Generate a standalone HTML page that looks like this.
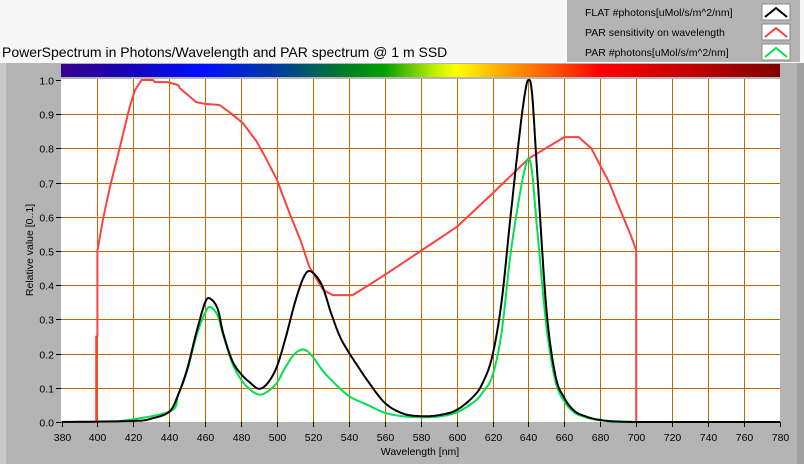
<!DOCTYPE html>
<html><head><style>
html,body{margin:0;padding:0;background:#b4b4b4;}
svg{display:block;font-family:"Liberation Sans",sans-serif;}
</style></head><body>
<svg id="s" width="804" height="464" xmlns="http://www.w3.org/2000/svg">
<defs>
<linearGradient id="spec" x1="0" x2="1">
<stop offset="0" stop-color="#3a0090"/>
<stop offset="0.08" stop-color="#1a00b0"/>
<stop offset="0.2" stop-color="#0010ff"/>
<stop offset="0.3" stop-color="#003aa0"/>
<stop offset="0.4" stop-color="#008020"/>
<stop offset="0.45" stop-color="#00a000"/>
<stop offset="0.52" stop-color="#c0f000"/>
<stop offset="0.55" stop-color="#ffff00"/>
<stop offset="0.62" stop-color="#ffa000"/>
<stop offset="0.7" stop-color="#ff4000"/>
<stop offset="0.75" stop-color="#ff0000"/>
<stop offset="0.88" stop-color="#c00000"/>
<stop offset="1" stop-color="#800000"/>
</linearGradient>
</defs>
<rect x="0" y="0" width="804" height="464" fill="#b4b4b4"/>
<rect x="0" y="0" width="804" height="63" fill="#f7f7f7"/>
<rect x="0" y="63" width="6" height="401" fill="#c8c8c8"/>
<rect x="797" y="63" width="7" height="401" fill="#a0a0a0"/>
<rect x="567" y="0" width="233" height="62" fill="#b4b4b4"/>
<text x="2" y="57" font-size="14" fill="#000">PowerSpectrum in Photons/Wavelength and PAR spectrum @ 1 m SSD</text>
<g font-size="10.5" fill="#000">
<text x="585" y="16">FLAT #photons[uMol/s/m^2/nm]</text>
<text x="585" y="36">PAR sensitivity on wavelength</text>
<text x="585" y="56">PAR #photons[uMol/s/m^2/nm]</text>
</g>
<g stroke="#888" fill="#fff"><rect x="762" y="4" width="28" height="16"/><rect x="762" y="24" width="28" height="16"/><rect x="762" y="44" width="28" height="16"/></g>
<polyline points="765,17 776,8 787,17" stroke="#000" stroke-width="2" fill="none"/>
<polyline points="765,37 776,28 787,37" stroke="#ff4040" stroke-width="2" fill="none"/>
<polyline points="765,57 776,48 787,57" stroke="#00e050" stroke-width="2" fill="none"/>
<rect x="61" y="64" width="719" height="13" fill="url(#spec)"/>
<rect x="61" y="79" width="719" height="343" fill="#fff"/>
<g id="grid" stroke="#c86400" stroke-width="1"></g>
<g id="ticks" font-size="10.5" fill="#000"></g>
<text x="420" y="455" font-size="10.5" text-anchor="middle">Wavelength [nm]</text>
<text transform="translate(33,250) rotate(-90)" font-size="10.5" text-anchor="middle">Relative value [0..1]</text>
<g id="curves" fill="none" stroke-width="2" stroke-linejoin="round"></g>
</svg>
<script>
var NS="http://www.w3.org/2000/svg";
function X(w){return 61.5+(w-380)*1.796;}
function Y(v){return 422-v*342;}
function el(t,a,p,txt){var e=document.createElementNS(NS,t);for(var k in a)e.setAttribute(k,a[k]);if(txt!=null)e.textContent=txt;p.appendChild(e);return e;}
var g=document.getElementById('grid'),tk=document.getElementById('ticks');
for(var w=380;w<=780;w+=20){var x=Math.round(X(w))+0.5;if(w>380&&w<780)el('line',{x1:x,y1:79,x2:x,y2:422},g);
el('line',{x1:x,y1:422,x2:x,y2:427,stroke:'#000'},tk);el('text',{x:x,y:441,'text-anchor':'middle'},tk,w);}
for(var i=0;i<=10;i++){var y=Math.round(Y(i/10))+0.5;if(i>0&&i<10)el('line',{x1:61,y1:y,x2:780,y2:y},g);
el('line',{x1:56,y1:y,x2:61,y2:y,stroke:'#000'},tk);el('text',{x:54,y:y+4,'text-anchor':'end'},tk,(i/10).toFixed(1));}
function cr(pts){var o=[];for(var i=0;i<pts.length-1;i++){var p0=pts[Math.max(0,i-1)],p1=pts[i],p2=pts[i+1],p3=pts[Math.min(pts.length-1,i+2)];
for(var t=0;t<1;t+=0.1){var t2=t*t,t3=t2*t;function f(a,b,c,d){return 0.5*(2*b+(-a+c)*t+(2*a-5*b+4*c-d)*t2+(-a+3*b-3*c+d)*t3);}
o.push([f(p0[0],p1[0],p2[0],p3[0]),Math.max(0,f(p0[1],p1[1],p2[1],p3[1]))]);}}o.push(pts[pts.length-1]);return o;}
function pl(pts,col){el('polyline',{points:pts.map(function(p){return X(p[0]).toFixed(1)+','+Y(p[1]).toFixed(1)}).join(' '),stroke:col},document.getElementById('curves'));}
var red=[[380,0],[399.3,0],[399.3,0.25],[400,0.25],[400,0.5],[403,0.59],[407,0.688],[412.6,0.805],[418,0.922],[421,0.971],[424.6,1.0],[431,1.0],[432,0.994],[439,0.994],[445,0.985],[446,0.976],[451.5,0.951],[455,0.935],[460,0.93],[468,0.927],[474,0.904],[481,0.874],[488.7,0.82],[494,0.77],[500,0.708],[507,0.61],[513,0.532],[518,0.454],[525.7,0.386],[531,0.371],[542,0.371],[548,0.39],[560,0.43],[580,0.5],[600,0.57],[620,0.668],[640,0.77],[660,0.833],[668,0.833],[675,0.8],[680,0.75],[685,0.7],[690,0.634],[697,0.546],[700,0.502],[700,0],[780,0]];
pl(red,'#ff4040');
var blk=[[380,0],[420,0.003],[430,0.01],[440,0.03],[445,0.08],[450,0.155],[455,0.26],[460,0.35],[463,0.36],[467,0.33],[470,0.26],[475,0.18],[480,0.14],[485,0.115],[490,0.097],[495,0.115],[500,0.163],[505,0.25],[510,0.35],[515,0.425],[519,0.44],[525,0.4],[530,0.32],[535,0.25],[540,0.203],[545,0.163],[550,0.124],[560,0.056],[570,0.025],[580,0.017],[590,0.02],[600,0.035],[610,0.078],[615,0.12],[620,0.195],[625,0.35],[630,0.6],[635,0.84],[638,0.96],[640,1.0],[642,0.96],[645,0.72],[650,0.33],[655,0.136],[660,0.07],[665,0.035],[670,0.02],[680,0.006],[700,0],[780,0]];
var grn=[[410,0],[440,0.03],[445,0.08],[450,0.15],[455,0.25],[460,0.32],[463,0.336],[467,0.31],[470,0.255],[475,0.173],[480,0.124],[485,0.095],[490,0.08],[495,0.09],[500,0.115],[505,0.163],[510,0.2],[515,0.212],[520,0.19],[525,0.153],[530,0.124],[540,0.076],[550,0.051],[560,0.027],[570,0.017],[580,0.014],[590,0.016],[600,0.028],[610,0.06],[615,0.09],[620,0.136],[625,0.26],[630,0.49],[635,0.66],[638,0.74],[640,0.77],[642,0.73],[645,0.556],[650,0.28],[655,0.12],[660,0.06],[665,0.03],[670,0.017],[680,0.005],[700,0]];
pl(cr(grn),'#00e050');
pl(cr(blk),'#000');
</script>
</body></html>
